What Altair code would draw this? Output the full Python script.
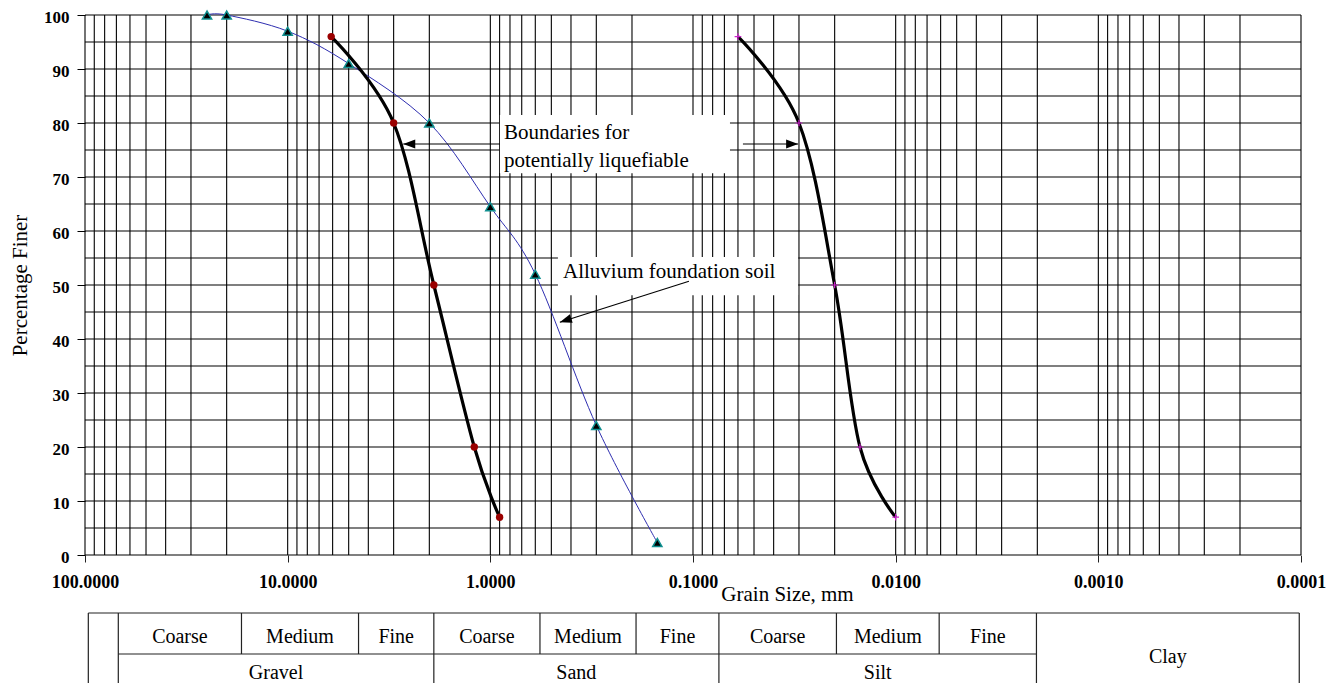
import altair as alt
import pandas as pd
import numpy as np

FONT = "Liberation Serif"

# ---------------- data ----------------
alluvium_size = [25, 20, 10, 5, 2, 1, 0.6, 0.3, 0.15]
alluvium_pct = [100, 100, 97, 91, 80, 64.5, 52, 24, 2.3]

coarse_limit_size = [6.1, 3.0, 1.9, 1.2, 0.9]
coarse_limit_pct = [96, 80, 50, 20, 7]

fine_limit_size = [0.06, 0.03, 0.02, 0.015, 0.01]
fine_limit_pct = [96, 80, 50, 20, 7]

x_tick_values = [100, 10, 1, 0.1, 0.01, 0.001, 0.0001]
y_tick_values = list(range(0, 101, 10))
y_grid_values = list(range(0, 101, 5))
x_grid_values = [100] + [k * 10.0 ** n for n in range(-4, 2) for k in range(1, 10)]

# soil classification table, boundaries in mm
table_left = 96.3
table_right = 0.000102
sub_edges = [68.5, 16.9, 4.47, 1.90, 0.569, 0.191, 0.0745, 0.0196, 0.0061, 0.00202]
sub_labels = ["Coarse", "Medium", "Fine", "Coarse", "Medium", "Fine", "Coarse", "Medium", "Fine"]
main_edges = [68.5, 1.90, 0.0745, 0.00202]
main_labels = ["Gravel", "Sand", "Silt"]
clay_label = "Clay"

# annotations (mm, percent)
box_x = [0.897, 0.464]
box_x2 = [0.0657, 0.0303]
box_y = [70.7, 48.1]
box_y2 = [81.5, 55.2]
note_text = ["Boundaries for", "potentially liquefiable", "Alluvium foundation soil"]
note_x = [0.857, 0.857, 0.438]
note_y = [77.0, 71.9, 51.3]
arrow_x = [0.897, 0.0567, 0.1047]
arrow_y = [76.1, 76.1, 50.7]
arrow_tip_x = [2.69, 0.0303, 0.454]
arrow_tip_y = [76.1, 76.1, 43.1]
arrow_angle = [0, 180, 342]

# ---------------- layout constants (pixels, plot coordinates) ----------------
W, H = 1216, 540
TABLE_TOP = 598
ROW_DIV = 639
TABLE_BOTTOM = 690
SUB_TEXT_Y = 622
MAIN_TEXT_Y = 658
CLAY_TEXT_Y = 642

xs = alt.Scale(type="log", domain=[0.0001, 100], reverse=True, nice=False)
ys = alt.Scale(domain=[0, 100], nice=False, zero=False)

x_axis = alt.Axis(
    values=x_tick_values, format=".4f", grid=False, domain=False,
    tickSize=7, tickColor="#222", tickWidth=1,
    labelFont=FONT, labelFontSize=18, labelFontWeight="bold", labelColor="black",
    labelPadding=11, labelOverlap=False, labelFlush=False, labelBound=False,
    title="Grain Size, mm", titleFont=FONT, titleFontSize=21, titleFontWeight="normal",
    titleColor="black", titleX=702, titleY=45, titleAlign="center", titleBaseline="alphabetic",
)
y_axis = alt.Axis(
    values=y_tick_values, grid=False, domain=False,
    tickSize=8, tickColor="black", tickWidth=1,
    labelFont=FONT, labelFontSize=17, labelFontWeight="bold", labelColor="black", labelPadding=8,
    labelOffset=2,
    title="Percentage Finer", titleFont=FONT, titleFontSize=21, titleFontWeight="normal",
    titleColor="black", titleX=-65, titleY=270, titleAngle=270, titleAlign="center",
    titleBaseline="middle",
)


def X(field="x"):
    return alt.X(f"{field}:Q", scale=xs, axis=x_axis)


def Y(field="y"):
    return alt.Y(f"{field}:Q", scale=ys, axis=y_axis)


# grid
vgrid_df = pd.DataFrame({"x": x_grid_values, "y": 0, "y2": 100})
hgrid_df = pd.DataFrame({"y": y_grid_values, "x": 100, "x2": 0.0001})

vgrid = alt.Chart(vgrid_df).mark_rule(color="#000000", strokeWidth=1.1).encode(
    x=X(), y=Y(), y2="y2:Q")
hgrid = alt.Chart(hgrid_df).mark_rule(color="#000000", strokeWidth=1.1).encode(
    x=X(), x2="x2:Q", y=Y())

# annotation boxes
box_df = pd.DataFrame({"x": box_x, "x2": box_x2, "y": box_y, "y2": box_y2})
boxes = alt.Chart(box_df).mark_rect(fill="white", stroke=None).encode(
    x=X(), x2="x2:Q", y=Y(), y2="y2:Q")

# series
all_df = pd.DataFrame({"x": alluvium_size, "y": alluvium_pct})
lim_df = pd.concat([
    pd.DataFrame({"x": coarse_limit_size, "y": coarse_limit_pct, "s": "coarse"}),
    pd.DataFrame({"x": fine_limit_size, "y": fine_limit_pct, "s": "fine"}),
])

all_line = alt.Chart(all_df).mark_line(
    color="#2e2eb0", strokeWidth=1, interpolate="cardinal").encode(
    x=X(), y=Y(), order=alt.Order("x:Q", sort="descending"))
lim_line = alt.Chart(lim_df).mark_line(
    color="black", strokeWidth=3.2, interpolate="cardinal").encode(
    x=X(), y=Y(), detail="s:N", order=alt.Order("x:Q", sort="descending"))

tri = alt.Chart(all_df).mark_point(
    shape="triangle-up", filled=True, fill="black", stroke="#109090",
    strokeWidth=1.5, size=85, opacity=1).encode(x=X(), y=Y())
circ = alt.Chart(lim_df[lim_df.s == "coarse"]).mark_point(
    shape="circle", filled=True, color="#9a0000", size=55, opacity=1).encode(x=X(), y=Y())
plus = alt.Chart(lim_df[lim_df.s == "fine"]).mark_point(
    shape="M-1,0L1,0M0,-1L0,1", filled=False, stroke="#cc22cc", strokeWidth=1.2,
    size=45, opacity=1).encode(x=X(), y=Y())

# annotation text and arrows
note_df = pd.DataFrame({"x": note_x, "y": note_y, "t": note_text})
notes = alt.Chart(note_df).mark_text(
    font=FONT, fontSize=21, align="left", baseline="alphabetic", color="black").encode(
    x=X(), y=Y(), text="t:N")

arr_df = pd.DataFrame({"x": arrow_x, "y": arrow_y, "x2": arrow_tip_x, "y2": arrow_tip_y,
                       "a": arrow_angle})
arr_lines = alt.Chart(arr_df).mark_rule(color="black", strokeWidth=1.1).encode(
    x=X(), y=Y(), x2="x2:Q", y2="y2:Q")
arr_heads = alt.Chart(arr_df).mark_point(
    shape="M0,0L2,-0.75L2,0.75Z", filled=True, color="black", size=144, opacity=1).encode(
    x=X("x2"), y=Y("y2"), angle=alt.Angle("a:Q", scale=None))

# classification table
top_line_df = pd.DataFrame({"x": [table_left], "x2": [table_right]})
div_line_df = pd.DataFrame({"x": [sub_edges[0]], "x2": [sub_edges[-1]]})
full_v = [table_left] + main_edges + [table_right]
part_v = [e for e in sub_edges if e not in main_edges]
full_v_df = pd.DataFrame({"x": full_v})
part_v_df = pd.DataFrame({"x": part_v})

tcol = "#222"
t_top = alt.Chart(top_line_df).mark_rule(color=tcol, strokeWidth=1.2).encode(
    x=X(), x2="x2:Q", y=alt.value(TABLE_TOP))
t_div = alt.Chart(div_line_df).mark_rule(color=tcol, strokeWidth=1.2).encode(
    x=X(), x2="x2:Q", y=alt.value(ROW_DIV))
t_full = alt.Chart(full_v_df).mark_rule(color=tcol, strokeWidth=1.2).encode(
    x=X(), y=alt.value(TABLE_TOP), y2=alt.value(TABLE_BOTTOM))
t_part = alt.Chart(part_v_df).mark_rule(color=tcol, strokeWidth=1.2).encode(
    x=X(), y=alt.value(TABLE_TOP), y2=alt.value(ROW_DIV))

sub_mid = [float(np.sqrt(a * b)) for a, b in zip(sub_edges[:-1], sub_edges[1:])]
main_mid = [float(np.sqrt(a * b)) for a, b in zip(main_edges[:-1], main_edges[1:])]
clay_mid = float(np.sqrt(main_edges[-1] * table_right))

sub_df = pd.DataFrame({"x": sub_mid, "t": sub_labels})
main_df = pd.DataFrame({"x": main_mid, "t": main_labels})
clay_df = pd.DataFrame({"x": [clay_mid], "t": [clay_label]})

txt = dict(font=FONT, fontSize=20, align="center", baseline="middle", color="black")
t_sub = alt.Chart(sub_df).mark_text(**txt).encode(x=X(), y=alt.value(SUB_TEXT_Y), text="t:N")
t_main = alt.Chart(main_df).mark_text(**txt).encode(x=X(), y=alt.value(MAIN_TEXT_Y), text="t:N")
t_clay = alt.Chart(clay_df).mark_text(**txt).encode(x=X(), y=alt.value(CLAY_TEXT_Y), text="t:N")

chart = alt.layer(
    vgrid, hgrid, boxes, all_line, lim_line, tri, circ, plus,
    notes, arr_lines, arr_heads,
    t_top, t_div, t_full, t_part, t_sub, t_main, t_clay,
).properties(
    width=W, height=H,
    padding={"left": 77, "top": 7, "right": 29, "bottom": 128},
    autosize=alt.AutoSizeParams(type="none"),
).configure_view(stroke=None)

chart.save("out.html", embed_options={"renderer": "svg", "actions": False})
